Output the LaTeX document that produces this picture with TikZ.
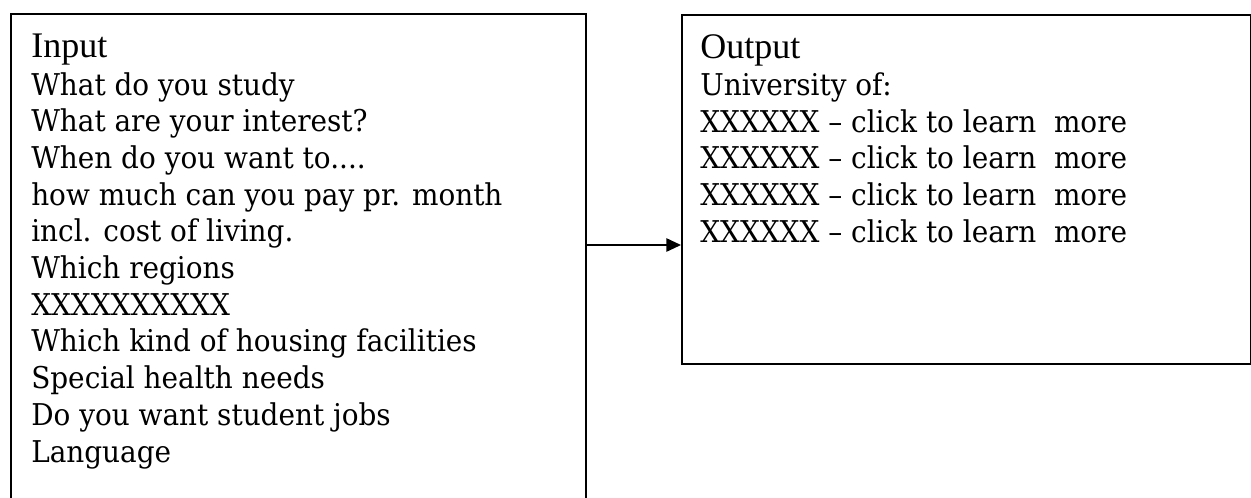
\documentclass[tikz,border=0pt]{standalone}
\usepackage{fontspec}
\newfontfamily\bodyfont[Ligatures=TeX,FakeStretch=0.93]{DejaVu Serif}
\newfontfamily\headfont[Ligatures=TeX]{Liberation Serif}
\usetikzlibrary{arrows.meta}
\begin{document}
\begin{tikzpicture}[x=0.75pt,y=-0.75pt,
  box/.style={draw=black, line width=1.3pt, rectangle, anchor=north west, inner sep=0pt},
  txt/.style={anchor=base west, inner sep=0pt, font=\bodyfont\fontsize{22.5}{27}\selectfont},
  head/.style={anchor=base west, inner sep=0pt, font=\headfont\fontsize{27}{30}\selectfont},
  conn/.style={line width=1.3pt, -{Triangle[length=11pt,width=10pt]}}]
\useasboundingbox[fill=white] (0,0) rectangle (1251,497);
\clip (0,0) rectangle (1251,497);
% boxes
\node[box, minimum width=431.25pt, minimum height=390pt] (inbox) at (10,13) {};
\node[box, minimum width=426.75pt, minimum height=261.75pt] (outbox) at (681,14) {};
% input text
\node[head] (inhead) at (31,57) {Input};
\node[txt] (in0) at (31,95) {What do you study};
\node[txt] (in1) at (31,131.7) {What are your interest?};
\node[txt] (in2) at (31,168.4) {When do you want to....};
\node[txt] (in3) at (31,205.1) {how much can you pay pr. month};
\node[txt] (in4) at (31,241.8) {incl. cost of living.};
\node[txt] (in5) at (31,278.5) {Which regions};
\node[txt] (in6) at (31,315.2) {XXXXXXXXXX};
\node[txt] (in7) at (31,351.9) {Which kind of housing facilities};
\node[txt] (in8) at (31,388.6) {Special health needs};
\node[txt] (in9) at (31,425.3) {Do you want student jobs};
\node[txt] (in10) at (31,462) {Language};
% output text
\node[head] (outhead) at (700,58) {Output};
\node[txt] (out0) at (700,95) {University of:};
\node[txt] (out1) at (700,132) {XXXXXX – click to learn\ \ more};
\node[txt] (out2) at (700,168.5) {XXXXXX – click to learn\ \ more};
\node[txt] (out3) at (700,205) {XXXXXX – click to learn\ \ more};
\node[txt] (out4) at (700,242) {XXXXXX – click to learn\ \ more};
% connector
\coordinate (ay) at (0,245);
\draw[conn] (inbox.east |- ay) -- (outbox.west |- ay);
\end{tikzpicture}
\end{document}
